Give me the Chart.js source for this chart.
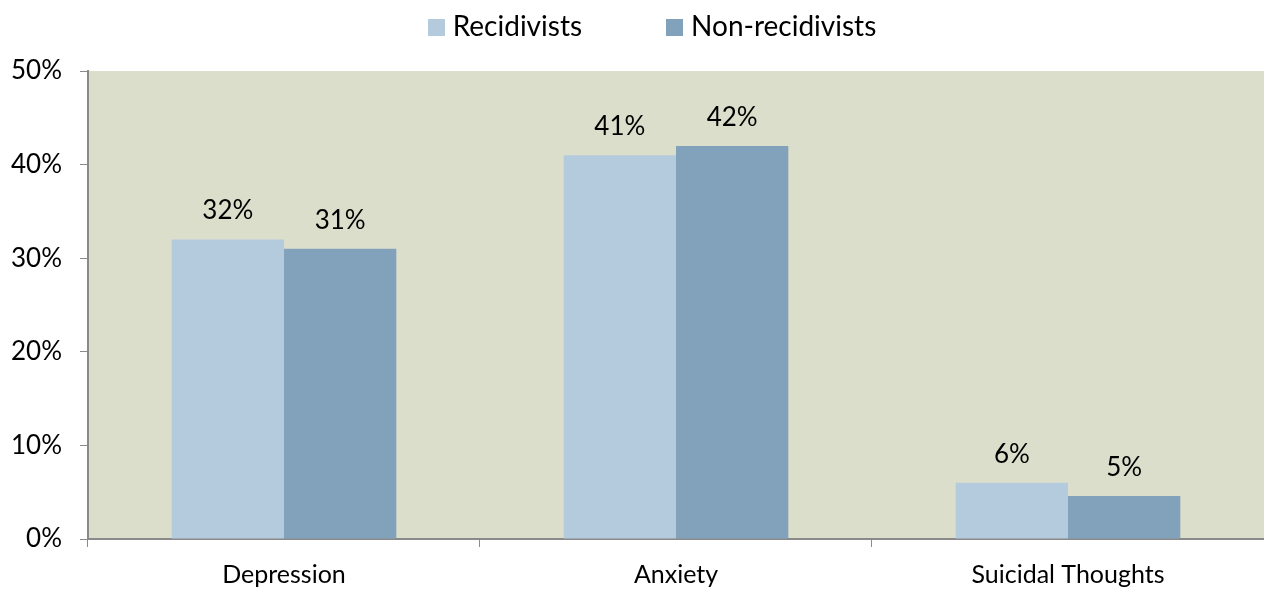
<!DOCTYPE html>
<html lang="en">
<head>
    <meta charset="UTF-8">
    <title>Recidivists vs Non-recidivists</title>
    <style>
        * { margin: 0; padding: 0; box-sizing: border-box; }
        body { background: #fff; font-family: Lato, "Open Sans", sans-serif; }
        .wrap { position: relative; width: 1264px; height: 590px; }
        #legend {
            position: absolute; top: 8px; left: 0; width: 1264px; padding-left: 40px;
            display: flex; justify-content: center; gap: 84px;
            font-size: 28px; color: #000; line-height: 34px;
        }
        #legend span.box {
            display: inline-block; width: 17px; height: 17px; margin-right: 8px;
            vertical-align: 0px;
        }
    </style>
</head>
<body>
<div class="wrap">
    <div id="legend"></div>
    <canvas id="chart" width="1264" height="590"></canvas>
</div>
<script src="https://cdn.jsdelivr.net/npm/chart.js"></script>
<script>
const categories = ['Depression', 'Anxiety', 'Suicidal Thoughts'];
const recidivists = [32, 41, 6];
const nonRecidivists = [31, 42, 4.6];
const yTicks = [0, 10, 20, 30, 40, 50];

const lightBlue = '#b4cadd';
const darkBlue = '#82a2bb';
const axisGrey = '#8a8a8a';
const font = 'Lato, "Open Sans", sans-serif';

// legend in html
const legend = document.getElementById('legend');
[['Recidivists', lightBlue], ['Non-recidivists', darkBlue]].forEach(function(item) {
    const d = document.createElement('div');
    d.innerHTML = '<span class="box" style="background:' + item[1] + '"></span>' + item[0];
    legend.appendChild(d);
});

const plotBg = {
    id: 'plotBg',
    beforeDraw(chart) {
        const a = chart.chartArea;
        const ctx = chart.ctx;
        ctx.save();
        ctx.fillStyle = '#dcdecc';
        ctx.fillRect(a.left, a.top, a.right - a.left, a.bottom - a.top);
        ctx.restore();
    }
};

const valueLabels = {
    id: 'valueLabels',
    afterDatasetsDraw(chart) {
        const ctx = chart.ctx;
        ctx.save();
        ctx.font = '26px ' + font;
        ctx.fillStyle = '#000';
        ctx.textAlign = 'center';
        ctx.textBaseline = 'alphabetic';
        chart.data.datasets.forEach(function(ds, i) {
            chart.getDatasetMeta(i).data.forEach(function(bar, j) {
                ctx.fillText(Math.round(ds.data[j]) + '%', bar.x, bar.y - 20);
            });
        });
        ctx.restore();
    }
};

new Chart(document.getElementById('chart'), {
    type: 'bar',
    data: {
        labels: categories,
        datasets: [
            { label: 'Recidivists', data: recidivists, backgroundColor: lightBlue },
            { label: 'Non-recidivists', data: nonRecidivists, backgroundColor: darkBlue }
        ]
    },
    options: {
        responsive: false,
        animation: false,
        layout: { padding: { top: 71, left: -7, right: 0, bottom: -13 } },
        datasets: { bar: { categoryPercentage: 0.573, barPercentage: 1.0 } },
        plugins: {
            legend: { display: false },
            tooltip: { enabled: false }
        },
        scales: {
            x: {
                grid: { offset: true, drawOnChartArea: false, tickLength: 8, color: axisGrey },
                border: { color: axisGrey, width: 2 },
                ticks: { color: '#000', font: { size: 25, family: font }, padding: 13 }
            },
            y: {
                min: 0,
                max: 50,
                afterBuildTicks(axis) {
                    axis.ticks = yTicks.map(function(v) { return { value: v }; });
                },
                grid: { drawOnChartArea: false, tickLength: 8, color: axisGrey },
                border: { color: axisGrey, width: 2 },
                ticks: {
                    color: '#000',
                    font: { size: 26, family: font },
                    padding: 18,
                    callback: function(v) { return v + '%'; }
                }
            }
        }
    },
    plugins: [plotBg, valueLabels]
});
</script>
</body>
</html>
